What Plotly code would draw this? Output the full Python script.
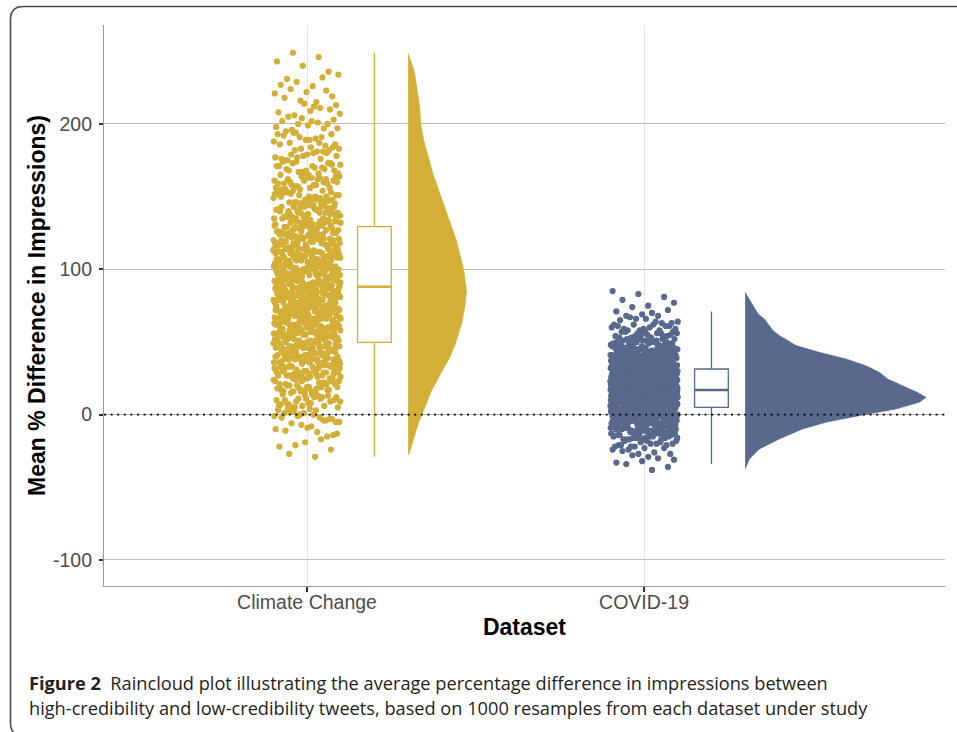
import plotly.graph_objects as go

# ---------------- data ----------------
categories = ["Climate Change", "COVID-19"]
colors = ["#D4AF37", "#58698D"]

climate_values = [
    -29, -27,
    -24, -19, -22, -17, -21,
    -13, -8, -11, -15, -7, -10, -12, -6, -14, -9,
    -2, -4, -1, -5, 0, 4, -3, 1, 3, -2, 2, -5, 4, 1, -4, 0, -1, 3, 2, -3,
    11, 7, 12, 9, 5, 14, 8, 13, 6, 10, 13, 5, 10, 8, 14, 6, 11, 9, 12, 7, 9, 14, 6, 11, 5, 12, 8, 10,
    21, 16, 23, 18, 15, 24, 19, 17, 22, 20, 23, 15, 20, 17, 24, 18, 22, 16, 21, 19,
    16, 22, 18, 24, 15, 20, 23, 17, 21, 19, 24, 19, 16, 21, 17, 23,
    31, 26, 33, 28, 25, 34, 29, 27, 32, 30, 33, 25, 30, 27, 34, 28, 32, 26, 31, 29,
    26, 32, 28, 34, 25, 30, 33, 27, 31, 29, 33, 27, 34, 26, 29, 32, 25, 31, 28, 30,
    34, 29, 26, 31, 27, 33,
    41, 36, 43, 38, 35, 44, 39, 42, 37, 40, 38, 43, 35, 41, 44, 36, 40, 37, 42, 39,
    44, 37, 41, 35, 39, 43, 36, 42, 38, 40, 36, 42, 39, 44, 37, 35, 41, 43, 40, 38,
    43, 39, 35, 40, 36, 44, 38, 41, 37, 42, 40, 35, 43, 38, 44, 37,
    48, 53, 46, 51, 45, 54, 49, 47, 52, 50, 53, 45, 50, 47, 54, 48, 51, 46, 52, 49,
    46, 52, 48, 54, 45, 50, 53, 47, 51, 49, 51, 47, 54, 46, 49, 52, 45, 53, 48, 50,
    54, 49, 46, 51, 47, 53, 50, 45, 52, 48, 47, 50, 53, 45, 49, 54, 46, 52, 48, 51, 45, 53,
    58, 63, 56, 61, 55, 64, 59, 57, 62, 60, 61, 55, 60, 57, 64, 58, 62, 56, 63, 59,
    56, 62, 58, 64, 55, 60, 63, 57, 61, 59, 63, 57, 64, 56, 59, 62, 55, 61, 58, 60,
    64, 59, 56, 61, 57, 63, 60, 55, 62, 58, 57, 60, 63, 55, 59, 64, 56, 62, 58, 61,
    55, 63, 60, 57, 62, 59,
    66, 72, 68, 74, 65, 70, 73, 67, 71, 69, 73, 67, 74, 66, 69, 72, 65, 71, 68, 70,
    74, 69, 66, 71, 67, 73, 70, 65, 72, 68, 67, 70, 73, 65, 69, 74, 66, 72, 68, 71,
    72, 68, 65, 70, 74, 66, 71, 69, 73, 67, 71, 66, 73, 68, 65, 74, 69, 67, 72, 70,
    73, 65, 70, 67, 74, 68, 72, 66, 71, 69,
    84, 79, 76, 81, 77, 83, 80, 75, 82, 78, 77, 80, 83, 75, 79, 84, 76, 82, 78, 81,
    82, 78, 75, 80, 84, 76, 81, 79, 83, 77, 81, 76, 83, 78, 75, 84, 79, 77, 82, 80,
    83, 75, 80, 77, 84, 78, 82, 76, 81, 79, 76, 82, 78, 84, 75, 80, 83, 77, 81, 79,
    83, 77, 84, 76, 79, 82, 75, 81, 78, 80, 79, 82,
    92, 88, 85, 90, 94, 86, 91, 89, 93, 87, 91, 86, 93, 88, 85, 94, 89, 87, 92, 90,
    93, 85, 90, 87, 94, 88, 92, 86, 91, 89, 86, 92, 88, 94, 85, 90, 93, 87, 91, 89,
    93, 87, 94, 86, 89, 92, 85, 91, 88, 90, 94, 89, 86, 91, 87, 93, 90, 85, 92, 88,
    87, 90, 93, 85, 89, 94, 86, 92, 88, 91,
    103, 95, 100, 97, 104, 98, 102, 96, 101, 99, 96, 102, 98, 104, 95, 100, 103, 97, 101, 99,
    103, 97, 104, 96, 99, 102, 95, 101, 98, 100, 104, 99, 96, 101, 97, 103, 100, 95, 102, 98,
    97, 100, 103, 95, 99, 104, 96, 102, 98, 101, 102, 98, 95, 100, 104, 96, 101, 99, 103, 97,
    101, 96, 103, 98, 100, 95,
    113, 107, 114, 106, 109, 112, 105, 111, 108, 110, 114, 109, 106, 111, 107, 113, 110, 105, 112, 108,
    107, 110, 113, 105, 109, 114, 106, 112, 108, 111, 112, 108, 105, 110, 114, 106, 111, 109, 113, 107,
    111, 106, 113, 108, 105, 114, 109, 107, 112, 110, 113, 105, 110, 107, 114, 108, 112, 106, 111, 109,
    117, 120, 123, 115, 119, 124, 116, 122, 118, 121, 122, 118, 115, 120, 124, 116, 121, 119, 123, 117,
    121, 116, 123, 118, 115, 124, 119, 117, 122, 120, 123, 115, 120, 117, 124, 118, 122, 116, 121, 119,
    116, 122, 118, 124, 115, 120, 123, 117, 121, 119, 118, 123, 115, 121,
    131, 126, 133, 128, 125, 134, 129, 127, 132, 130, 126, 132, 128, 134, 125, 130, 133, 127, 131, 129,
    134, 129, 126, 131, 127, 133, 130, 125, 132, 128, 132, 128, 125, 130, 134, 126, 131, 129, 133, 127,
    129, 133, 126, 131, 128, 134, 125, 130,
    143, 135, 140, 137, 144, 138, 142, 136, 141, 139, 143, 137, 144, 136, 139, 142, 135, 141, 138, 140,
    137, 140, 143, 135, 139, 144, 136, 142, 138, 141, 141, 136, 143, 138, 135, 144, 139, 137, 142, 140,
    138, 143,
    154, 149, 146, 151, 147, 153, 150, 145, 152, 148, 152, 148, 145, 150, 154, 146, 151, 149, 153, 147,
    146, 152, 148, 154, 145, 150, 153, 147, 151, 149, 150, 146, 153, 148, 151, 145,
    157, 160, 163, 155, 159, 164, 156, 162, 158, 161, 163, 155, 160, 157, 164, 158, 162, 156, 161, 159,
    163, 157, 164, 156, 159, 162, 155, 161, 158, 160,
    172, 168, 165, 170, 174, 166, 171, 169, 173, 167, 171, 166, 173, 168, 165, 174, 169, 167, 172, 170,
    168, 173, 166, 171,
    176, 182, 178, 184, 175, 180, 183, 177, 181, 179, 184, 179, 176, 181, 177, 183, 180, 175, 182, 178,
    193, 187, 194, 186, 189, 192, 185, 191, 188, 190, 187, 193, 189, 186, 191, 194,
    197, 202, 195, 200, 204, 198, 201, 196, 203, 199, 202, 197, 200,
    207, 212, 205, 210, 214, 208, 211, 206, 213, 209,
    218, 223, 216, 221, 215, 224, 219, 222,
    227, 232, 229, 234, 226, 231,
    236, 240, 243, 246, 249,
]

covid_values = [
    -38, -34, -36, -32, -33,
    -30, -28, -31, -29,
    -25, -23, -27, -24, -26, -24, -27, -23,
    -21, -19, -22, -18, -20, -18, -21, -19, -22, -20, -22, -20, -18, -21,
    -14, -16, -13, -15, -17, -15, -17, -14, -13, -16, -13, -15, -17, -16, -14,
    -15, -13, -17, -14, -16, -14, -17, -13, -16,
    -11, -9, -12, -8, -10, -8, -11, -9, -12, -10, -12, -10, -8, -11, -9,
    -9, -11, -8, -10, -12, -10, -12, -9, -8, -11, -8, -10, -12, -11, -9, -10, -8, -12, -9,
    -4, -7, -3, -6, -5, -6, -4, -7, -3, -5, -3, -6, -4, -7, -5, -7, -5, -3, -6, -4,
    -4, -6, -3, -5, -7, -5, -7, -4, -3, -6, -3, -5, -7, -6, -4, -5, -3, -7, -4, -6,
    -4, -7, -3, -6, -5, -6, -4, -7,
    2, -1, 1, -2, 0, -2, 0, 2, -1, 1, 1, -1, 2, 0, -2, 0, -2, 1, 2, -1,
    2, 0, -2, -1, 1, 0, 2, -2, 1, -1, 1, -2, 2, -1, 0, -1, 1, -2, 2, 0,
    2, -1, 1, -2, 0, -2, 0, 2, -1, 1, 1, -1, 2, 0, -2, 0, -2, 1, 2, -1,
    2, 0, -2, -1, 1, 0, 2, -2,
    6, 3, 7, 4, 5, 4, 6, 3, 7, 5, 7, 4, 6, 3, 5, 3, 5, 7, 4, 6,
    6, 4, 7, 5, 3, 5, 3, 6, 7, 4, 7, 5, 3, 4, 6, 5, 7, 3, 6, 4,
    6, 3, 7, 4, 5, 4, 6, 3, 7, 5, 7, 4, 6, 3, 5, 3, 5, 7, 4, 6,
    6, 4, 7, 5, 3, 5, 3, 6, 7, 4, 7, 5, 3, 4, 6, 5, 7, 3, 6, 4,
    6, 3, 7, 4, 5, 4, 6, 3,
    10, 12, 8, 11, 9, 11, 8, 12, 9, 10, 9, 11, 8, 12, 10, 12, 9, 11, 8, 10,
    8, 10, 12, 9, 11, 11, 9, 12, 10, 8, 10, 8, 11, 12, 9, 12, 10, 8, 9, 11,
    8, 10, 12, 9, 11, 11, 9, 12, 10, 8, 10, 8, 11, 12, 9, 12, 10, 8, 9, 11,
    10, 12, 8, 11, 9, 11, 8, 12, 9, 10, 9, 11, 8, 12, 10, 12, 9, 11, 8, 10,
    9, 11, 8, 12, 10, 10, 8, 11, 12, 9, 11, 8, 12, 9, 10, 11, 9, 12, 10, 8,
    12, 10, 8, 9,
    16, 13, 17, 14, 15, 14, 16, 13, 17, 15, 17, 14, 16, 13, 15, 13, 15, 17, 14, 16,
    16, 14, 17, 15, 13, 15, 13, 16, 17, 14, 17, 15, 13, 14, 16, 15, 17, 13, 16, 14,
    16, 14, 17, 15, 13, 15, 13, 16, 17, 14, 17, 15, 13, 14, 16, 15, 17, 13, 16, 14,
    16, 13, 17, 14, 15, 14, 16, 13, 17, 15, 17, 14, 16, 13, 15, 13, 15, 17, 14, 16,
    17, 14, 16, 13, 15, 15, 17, 13, 16, 14, 15, 13, 16, 17, 14, 14, 16, 13, 17, 15,
    16, 13,
    19, 21, 18, 22, 20, 22, 19, 21, 18, 20, 18, 20, 22, 19, 21, 21, 19, 22, 20, 18,
    20, 18, 21, 22, 19, 22, 20, 18, 19, 21, 20, 22, 18, 21, 19, 21, 18, 22, 19, 20,
    20, 18, 21, 22, 19, 22, 20, 18, 19, 21, 20, 22, 18, 21, 19, 21, 18, 22, 19, 20,
    19, 21, 18, 22, 20, 22, 19, 21, 18, 20, 18, 20, 22, 19, 21, 21, 19, 22, 20, 18,
    18, 20, 22, 19, 21, 21, 18, 22, 19, 20, 20, 22, 18, 21,
    27, 24, 26, 23, 25, 23, 25, 27, 24, 26, 26, 24, 27, 25, 23, 25, 23, 26, 27, 24,
    27, 25, 23, 24, 26, 25, 27, 23, 26, 24, 26, 23, 27, 24, 25, 24, 26, 23, 27, 25,
    27, 25, 23, 24, 26, 25, 27, 23, 26, 24, 26, 23, 27, 24, 25, 24, 26, 23, 27, 25,
    27, 24, 26, 23, 25, 23, 25, 27, 24, 26, 26, 24, 27, 25, 23, 25, 23, 26, 27, 24,
    24, 27, 23, 26,
    28, 30, 32, 29, 31, 31, 29, 32, 30, 28, 30, 28, 31, 32, 29, 32, 30, 28, 29, 31,
    30, 32, 28, 31, 29, 31, 28, 32, 29, 30, 29, 31, 28, 32, 30, 32, 29, 31, 28, 30,
    30, 32, 28, 31, 29, 31, 28, 32, 29, 30, 29, 31, 28, 32, 30, 32, 29, 31, 28, 30,
    28, 30, 32, 29, 31, 31, 29, 32, 30, 28, 30, 28, 31, 32, 29, 32, 30, 28, 29, 31,
    36, 34, 37, 35, 33, 35, 33, 36, 37, 34, 37, 35, 33, 34, 36, 35, 37, 33, 36, 34,
    36, 33, 37, 34, 35, 34, 36, 33, 37, 35, 37, 34, 36, 33, 35, 33, 35, 37, 34, 36,
    36, 33, 37, 34, 35, 37, 34, 36, 33, 35, 36, 34, 37, 35, 33, 37, 35, 33, 34, 36,
    35, 37, 33, 36, 34, 34, 36, 33, 37, 35,
    40, 38, 41, 42, 39, 42, 40, 38, 39, 41, 40, 42, 38, 41, 39, 41, 38, 42, 39, 40,
    39, 41, 38, 42, 40, 42, 39, 41, 38, 40, 38, 40, 42, 39, 41, 41, 39, 42, 40, 38,
    39, 41, 38, 42, 40, 38, 40, 42, 39, 41, 40, 42, 38, 41, 39, 41,
    47, 45, 43, 44, 46, 45, 47, 43, 46, 44, 46, 43, 47, 44, 45, 44, 46, 43, 47, 45,
    47, 44, 46, 43, 45, 43, 45, 47, 44, 46, 46, 44, 47, 45, 43, 45, 43, 46,
    50, 52, 48, 51, 49, 49, 51, 48, 52, 50, 48, 50, 52, 49, 51, 50, 48, 51, 52, 49,
    51, 48, 52, 49, 50, 49,
    55, 57, 53, 56, 54, 56, 53, 57, 54, 55, 54, 56, 53, 57, 55, 57, 54, 56,
    60, 62, 58, 61, 59, 61, 58, 62, 59, 60, 59, 61, 58, 62,
    64, 67, 63, 66, 65, 63, 66, 64,
    70, 68, 72, 69, 71, 68,
    74, 77, 75,
    79, 81,
    83, 85,
]

# precomputed box-plot statistics
box_q1 = [49.7, 5.0]
box_median = [88.0, 17.0]
box_q3 = [129.4, 31.4]
box_lower = [-29.0, -34.0]
box_upper = [249.0, 71.0]

# half-violin density profiles (relative widths)
climate_density_y = [-28, -27, -18, -6.4, 5, 16.5, 28, 39.4, 50.9, 62.4, 73.8,
                     85.3, 99.6, 119.7, 142.6, 165.6, 188.5, 200, 211.5, 222,
                     234.4, 242, 248.6]
climate_density = [0, 1, 5, 10, 16.7, 23.4, 32.4, 41.7, 48.4, 53.4, 56.7,
                   58.4, 55.7, 48.4, 36.7, 25, 15.7, 12.7, 11.7, 9.5,
                   6.7, 3.5, 0]
covid_density_y = [-37.4, -35, -30.5, -23.6, -16.7, -9.8, -5.3, -0.7, 3.9, 8.5,
                   11.9, 15.3, 20, 24.5, 29.1, 33.7, 38.3, 42.9, 47.5, 51,
                   54.4, 57.8, 65.8, 69.3, 77.3, 81, 84.2]
covid_density = [0, 1.5, 4.3, 14.3, 34.3, 57.6, 81, 114.3, 151, 174.3,
                 181, 172.6, 157.6, 142.6, 134.3, 121, 101, 74.3, 51, 42,
                 34.3, 28, 19.3, 13, 6, 3, 0]

y_ticks = [-100, 0, 100, 200]
y_tick_labels = ["-100", "0", "100", "200"]

# ---------------- layout constants ----------------
W, H = 957, 732
ML, MR, MT, MB = 104, 12, 25, 146
X_RANGE = [0.3976, 2.893]
Y_RANGE = [-117.9, 268.1]
JITTER = 0.1
BOX_OFFSET = 0.2
BOX_WIDTH = 0.1
VIOLIN_OFFSET = 0.3
VIOLIN_MAX = [0.1733, 0.537]
PHI = (5 ** 0.5 - 1) / 2
FONT = "Liberation Sans, Arial, Helvetica, sans-serif"

groups = [
    (climate_values, climate_density_y, climate_density),
    (covid_values, covid_density_y, covid_density),
]

fig = go.Figure()

for gi, (vals, dens_y, dens) in enumerate(groups):
    pos = gi + 1
    col = colors[gi]
    # deterministic, evenly spread horizontal jitter (beeswarm-like layout)
    xs = [pos + (((i + 1) * PHI) % 1.0 * 2 - 1) * JITTER for i in range(len(vals))]
    fig.add_trace(go.Scatter(
        x=xs, y=vals, mode="markers",
        marker=dict(size=6.2, color=col, line=dict(width=0)),
        hoverinfo="y", showlegend=False))

    # box plot from precomputed statistics
    fig.add_trace(go.Box(
        x=[pos + BOX_OFFSET], q1=[box_q1[gi]], median=[box_median[gi]],
        q3=[box_q3[gi]], lowerfence=[box_lower[gi]], upperfence=[box_upper[gi]],
        orientation="v", width=BOX_WIDTH, whiskerwidth=0, boxpoints=False,
        fillcolor="white", line=dict(color=col, width=1.3), showlegend=False))
    # thicker median line (ggplot style)
    fig.add_trace(go.Scatter(
        x=[pos + BOX_OFFSET - BOX_WIDTH / 2, pos + BOX_OFFSET + BOX_WIDTH / 2],
        y=[box_median[gi], box_median[gi]], mode="lines",
        line=dict(color=col, width=2.6), hoverinfo="skip", showlegend=False))

    # half violin
    base = pos + VIOLIN_OFFSET
    dmax = max(dens)
    vx = [base] + [base + d / dmax * VIOLIN_MAX[gi] for d in dens] + [base]
    vy = [dens_y[0]] + list(dens_y) + [dens_y[-1]]
    fig.add_trace(go.Scatter(
        x=vx, y=vy, mode="lines", fill="toself", fillcolor=col,
        line=dict(color=col, width=0.5), hoverinfo="skip", showlegend=False))


def px_x(p):
    return (p - ML) / (W - ML - MR)


def px_y(p):
    return (H - MB - p) / (H - MT - MB)


# rounded figure frame
fl, ft, fr, fb, rad = 10.5, 6.5, 975, 736, 13
frame_path = (
    f"M {px_x(fl + rad)},{px_y(fb)} Q {px_x(fl)},{px_y(fb)} {px_x(fl)},{px_y(fb - rad)} "
    f"L {px_x(fl)},{px_y(ft + rad)} Q {px_x(fl)},{px_y(ft)} {px_x(fl + rad)},{px_y(ft)} "
    f"L {px_x(fr)},{px_y(ft)}"
)

shapes = [
    dict(type="line", xref="paper", x0=0, x1=1, yref="y", y0=0, y1=0,
         line=dict(color="black", width=1.6, dash="2px,4.6px"), layer="above"),
    dict(type="path", xref="paper", yref="paper", path=frame_path,
         line=dict(color="#4a4a4a", width=1.6), layer="above"),
]

cap_font = dict(family="Open Sans, Noto Sans, sans-serif", size=18.2, color="#231F20")
annotations = [
    dict(xref="paper", yref="paper", x=px_x(27), y=px_y(683), xanchor="left",
         yanchor="middle", showarrow=False, font=cap_font,
         text="<b>Figure 2</b>\u00a0\u00a0Raincloud plot illustrating the average percentage "
              "difference in impressions between"),
    dict(xref="paper", yref="paper", x=px_x(27), y=px_y(708), xanchor="left",
         yanchor="middle", showarrow=False, font=cap_font,
         text="high-credibility and low-credibility tweets, based on 1000 resamples "
              "from each dataset under study"),
]

fig.update_layout(
    width=W, height=H,
    margin=dict(l=ML, r=MR, t=MT, b=MB, autoexpand=False),
    paper_bgcolor="white", plot_bgcolor="white",
    showlegend=False, boxmode="overlay",
    shapes=shapes, annotations=annotations,
    xaxis=dict(
        range=X_RANGE, tickmode="array", tickvals=[1, 2], ticktext=categories,
        showgrid=True, gridcolor="#E4E4E4", gridwidth=1, zeroline=False,
        showline=True, linecolor="#9A9A9A", linewidth=1.2,
        ticks="outside", ticklen=5, tickwidth=1.5, tickcolor="#333333",
        ticklabelstandoff=-7,
        tickfont=dict(family=FONT, size=19.5, color="#4D4D4D"),
        title=dict(text="<b>Dataset</b>", standoff=7,
                   font=dict(family=FONT, size=23, color="black")),
    ),
    yaxis=dict(
        range=Y_RANGE, tickmode="array", tickvals=y_ticks, ticktext=y_tick_labels,
        showgrid=True, gridcolor="#BDBDBD", gridwidth=1.4, zeroline=False,
        showline=True, linecolor="#9A9A9A", linewidth=1.2,
        ticks="outside", ticklen=4, tickwidth=1.5, tickcolor="#333333",
        ticklabelstandoff=3,
        tickfont=dict(family=FONT, size=19.5, color="#4D4D4D"),
        title=dict(text="<b>Mean % Difference in Impressions)</b>", standoff=0,
                   font=dict(family=FONT, size=23, color="black")),
    ),
)

fig.write_html(
    "out.html",
    config={"displayModeBar": False},
    post_script="document.documentElement.style.margin='0';document.body.style.margin='0';",
)
